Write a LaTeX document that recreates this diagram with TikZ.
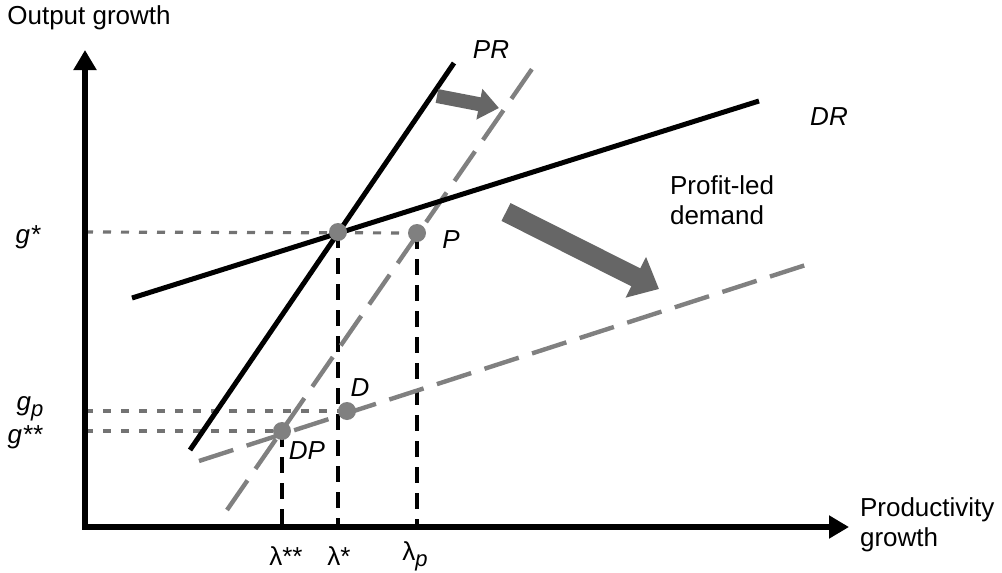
\documentclass[tikz,border=0pt]{standalone}
\usepackage{fontspec}
\setmainfont{Liberation Sans}
\usetikzlibrary{arrows.meta,calc}
\newcommand\lowp{\raisebox{-0.45ex}{\fontsize{11}{11}\selectfont\itshape p}}

\begin{document}
\begin{tikzpicture}[x=0.5pt,y=-0.5pt,
  font=\fontsize{13}{15}\selectfont,
  axisline/.style={line width=3.4pt,line join=miter,{Triangle[length=10pt,width=11pt]}-{Triangle[length=10pt,width=11pt]}},
  sched/.style={line width=2.5pt},
  shifted/.style={line width=2.2pt,black!50,dash pattern=on 18pt off 7pt},
  guide/.style={line width=1.6pt,black!55,dash pattern=on 4pt off 5pt},
  drop/.style={line width=1.9pt,dash pattern=on 8pt off 5pt},
  spot/.style={circle,fill=black!50,inner sep=0pt,minimum size=9pt},
  shiftarrow/.style={black!60}
]
\useasboundingbox (0,0) rectangle (1002,573);
\coordinate (O) at (85,527);
\coordinate (ytip) at (85,50);
\coordinate (xtip) at (849,527);
\coordinate (E) at (338,232);
\coordinate (P) at (417,233);
\coordinate (D) at (347,411);
\coordinate (DP) at (282,431);
\coordinate (PRa) at (190,450);
\coordinate (PRb) at (454,63);
\coordinate (DRa) at (132,298);
\coordinate (DRb) at (759,101);
\coordinate (PRc) at (227,510);
\coordinate (PRd) at (532,69);
\coordinate (DRc) at (199,461);
\coordinate (DRd) at (815,262);
\coordinate (ShA) at (437,96);
\coordinate (ShB) at (499,108);
\coordinate (ShC) at (506,212);
\coordinate (ShD) at (659,289);

\draw[guide] (E -| O) -- (P);
\draw[guide] (D -| O) -- (D);
\draw[guide] (DP -| O) -- (DP);
\draw[drop] (E) -- (E |- O);
\draw[drop] (P) -- (P |- O);
\draw[drop] (DP) -- (DP |- O);
\draw[shifted] (PRc) -- (PRd);
\draw[shifted] (DRc) -- (DRd);
\draw[sched] (PRa) -- (PRb);
\draw[sched] (DRa) -- (DRb);
\draw[axisline] (ytip) -- (O) -- (xtip);
\draw[shiftarrow,line width=7pt,-{Triangle[length=10pt,width=15pt]}] (ShA) -- (ShB);
\draw[shiftarrow,line width=10pt,-{Triangle[length=13pt,width=22pt]}] (ShC) -- (ShD);

\node[spot] (Edot) at (E) {};
\node[spot] (Pdot) at (P) {};
\node[spot] (Ddot) at (D) {};
\node[spot] (DPdot) at (DP) {};

\node (ylab) at (89,18) {Output growth};
\node[anchor=west,align=left] (xlab) at (853,525) {Productivity\\growth};
\node[anchor=west,align=left] (note) at (663,200) {Profit-led\\demand};
\node (PRlab) at (491,50) {\itshape PR};
\node (DRlab) at (829,117) {\itshape DR};
\node (Plab) at (451,240) {\itshape P};
\node (Dlab) at (360,388) {\itshape D};
\node (DPlab) at (307,451) {\itshape DP};
\node (gs) at (28,237) {\itshape g*};
\node (gp) at (30,409) {\itshape g\lowp};
\node (gss) at (25,437) {\itshape g**};
\node (lss) at (286,556) {λ**};
\node (ls) at (339,556) {λ*};
\node (lp) at (415,556) {λ\lowp};
\end{tikzpicture}
\end{document}
